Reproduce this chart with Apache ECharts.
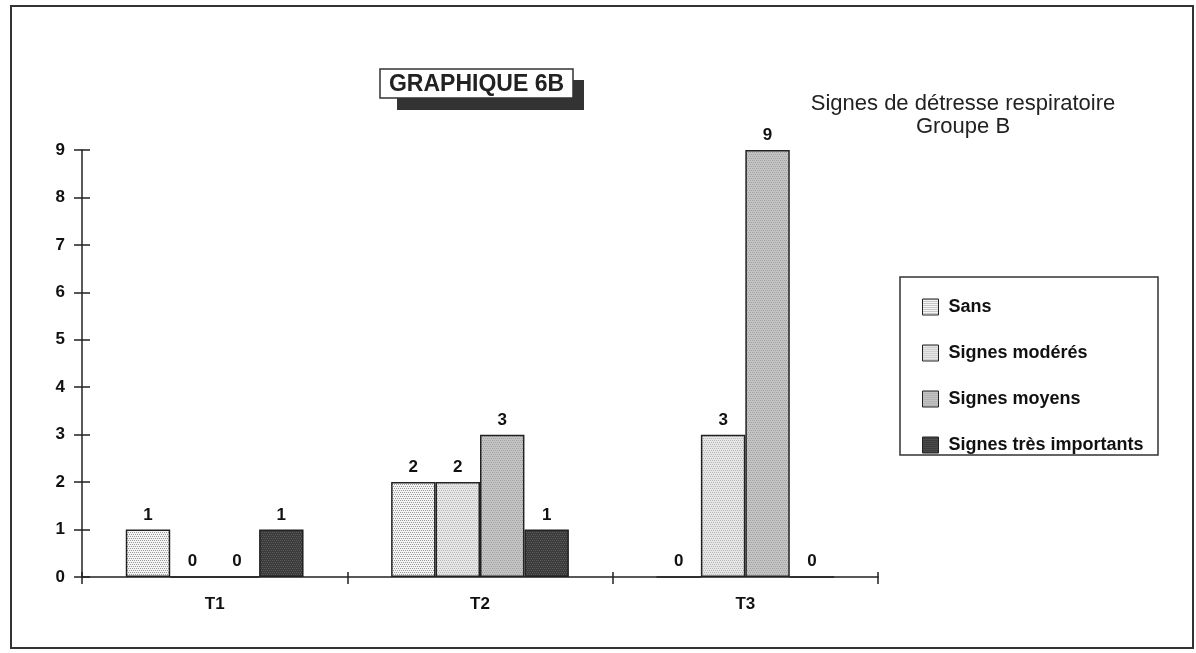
<!DOCTYPE html>
<html>
<head>
<meta charset="utf-8">
<script src="https://cdn.jsdelivr.net/npm/echarts@6/dist/echarts.min.js"></script>
<style>html,body{margin:0;padding:0;background:#fff;}#c{width:1196px;height:653px;}</style>
</head>
<body>
<div id="c"></div>
<script>
const categories = ['T1', 'T2', 'T3'];
const seriesNames = ['Sans', 'Signes modérés', 'Signes moyens', 'Signes très importants'];
const sans = [1, 2, 0];
const moderes = [0, 2, 3];
const moyens = [0, 3, 9];
const tresImportants = [1, 1, 0];
const yTicks = [0, 1, 2, 3, 4, 5, 6, 7, 8, 9];

function pattern(bg, dot, step, offset) {
  const c = document.createElement('canvas');
  c.width = 8; c.height = 8;
  const g = c.getContext('2d');
  g.fillStyle = bg; g.fillRect(0, 0, 8, 8);
  g.fillStyle = dot;
  for (let y = 0; y < 8; y += step) {
    for (let x = ((y / step) % 2) * offset; x < 8; x += step) {
      g.fillRect(x, y, 1, 1);
    }
  }
  return { image: c, repeat: 'repeat' };
}
const fills = [
  pattern('#f4f4f4', '#9a9a9a', 2, 1),
  pattern('#e6e6e6', '#b8b8b8', 2, 1),
  pattern('#c4c4c4', '#a2a2a2', 2, 1),
  pattern('#3c3c3c', '#5a5a5a', 2, 1)
];
const values = [sans, moderes, moyens, tresImportants];
const font = '"Liberation Sans", Arial, sans-serif';

const chart = echarts.init(document.getElementById('c'), null, { renderer: 'canvas' });
const series = seriesNames.map((n, i) => ({
  name: n,
  type: 'bar',
  data: values[i],
  barGap: '0%',
  barCategoryGap: '33%',
  itemStyle: { color: fills[i], borderColor: '#222', borderWidth: 1.5 },
  label: { show: true, position: 'top', distance: 6, color: '#111', fontFamily: font, fontWeight: 'bold', fontSize: 17 }
}));

chart.setOption({
  animation: false,
  backgroundColor: '#fff',
  title: {
    text: 'Signes de détresse respiratoire\nGroupe B',
    left: 958, top: 87, textAlign: 'center',
    textStyle: { fontFamily: font, fontWeight: 'normal', fontSize: 22, color: '#222', lineHeight: 23 }
  },
  legend: {
    left: 917, top: 293, orient: 'vertical', itemWidth: 16, itemHeight: 16, itemGap: 28,
    icon: 'rect',
    textStyle: { fontFamily: font, fontWeight: 'bold', fontSize: 18, color: '#111', padding: [0, 0, 0, 5] },
    itemStyle: { borderColor: '#222', borderWidth: 1 },
    data: seriesNames
  },
  grid: { left: 82, right: 318, top: 150, bottom: 76 },
  xAxis: [{
    type: 'category', data: categories,
    axisLine: { lineStyle: { color: '#222', width: 1.5 } },
    axisTick: { show: true, length: 7, lineStyle: { color: '#222', width: 1.5 } },
    axisLabel: { margin: 19, color: '#111', fontFamily: font, fontWeight: 'bold', fontSize: 17 }
  }, {
    type: 'category', data: categories, position: 'bottom',
    axisLine: { show: false },
    axisTick: { show: true, inside: true, length: 5, lineStyle: { color: '#222', width: 1.5 } },
    axisLabel: { show: false }
  }],
  yAxis: [{
    type: 'value', min: 0, max: 9, interval: 1,
    axisLine: { show: true, lineStyle: { color: '#222', width: 1.5 } },
    axisTick: { show: true, length: 8, lineStyle: { color: '#222', width: 1.5 } },
    splitLine: { show: false },
    axisLabel: { margin: 17, color: '#111', fontFamily: font, fontWeight: 'bold', fontSize: 17,
      formatter: v => yTicks.includes(v) ? String(v) : '' }
  }, {
    type: 'value', min: 0, max: 9, interval: 1, position: 'left',
    axisLine: { show: false },
    axisTick: { show: true, inside: true, length: 8, lineStyle: { color: '#222', width: 1.5 } },
    splitLine: { show: false },
    axisLabel: { show: false }
  }],
  series: series,
  graphic: [
    { type: 'rect', shape: { x: 11, y: 6, width: 1182, height: 642 }, style: { fill: 'none', stroke: '#333', lineWidth: 2 }, silent: true, z: 100 },
    { type: 'rect', shape: { x: 900, y: 277, width: 258, height: 178 }, style: { fill: 'none', stroke: '#333', lineWidth: 1.5 }, silent: true, z: 100 },
    { type: 'rect', shape: { x: 397, y: 80, width: 187, height: 30 }, style: { fill: '#333', stroke: 'none' }, z: 100 },
    { type: 'rect', shape: { x: 380, y: 69, width: 193, height: 29 }, style: { fill: '#fff', stroke: '#333', lineWidth: 1.5 }, z: 101 },
    { type: 'text', x: 476.5, y: 85, style: { text: 'GRAPHIQUE 6B', fill: '#222', font: 'bold 23px ' + font, textAlign: 'center', textVerticalAlign: 'middle' }, z: 102 }
  ]
});
</script>
</body>
</html>
